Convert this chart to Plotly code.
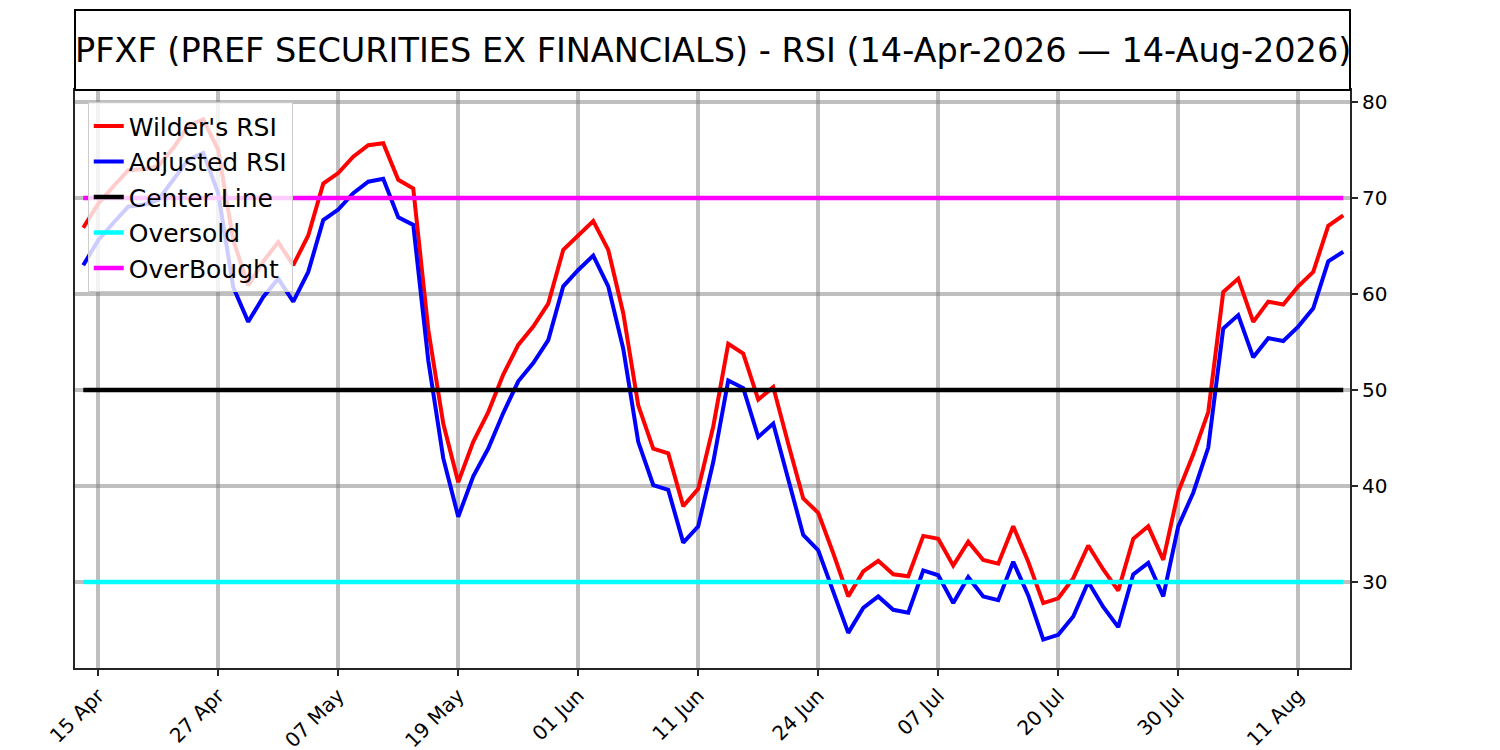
import plotly.graph_objects as go

# RSI readings, one per trading day from 14-Apr-2026 to 14-Aug-2026
wilder_rsi = [
    66.9, 69.4, 71.2, 72.9, 73.0, 73.3, 75.2, 77.5, 78.2, 75.0,
    65.6, 60.9, 63.4, 65.4, 63.0, 66.1, 71.5, 72.6, 74.3, 75.5,
    75.7, 71.9, 71.0, 56.3, 46.5, 40.4, 44.6, 47.7, 51.6, 54.7,
    56.6, 59.0, 64.6, 66.1, 67.6, 64.6, 58.0, 48.4, 43.9, 43.4,
    37.9, 39.7, 46.2, 54.8, 53.8, 49.0, 50.3, 44.4, 38.7, 37.2,
    33.0, 28.5, 31.1, 32.2, 30.8, 30.6, 34.8, 34.5, 31.7, 34.2,
    32.3, 31.9, 35.8, 32.1, 27.8, 28.3, 30.4, 33.8, 31.3, 29.1,
    34.5, 35.8, 32.3, 39.4, 43.3, 47.7, 60.2, 61.6, 57.1, 59.2,
    58.9, 60.8, 62.3, 67.1, 68.2,
]
adjusted_rsi = [
    63.0, 65.6, 67.4, 69.1, 69.3, 69.8, 71.9, 74.0, 74.7, 70.5,
    60.7, 57.1, 59.7, 61.6, 59.2, 62.3, 67.7, 68.8, 70.5, 71.7,
    72.0, 68.0, 67.2, 53.1, 42.9, 36.8, 41.0, 43.9, 47.6, 50.9,
    52.8, 55.2, 60.8, 62.5, 64.0, 60.8, 54.3, 44.6, 40.1, 39.6,
    34.1, 35.8, 42.5, 51.0, 50.2, 45.1, 46.5, 40.6, 34.9, 33.3,
    29.0, 24.7, 27.3, 28.5, 27.1, 26.8, 31.2, 30.7, 27.8, 30.5,
    28.5, 28.1, 32.1, 28.6, 24.0, 24.5, 26.4, 30.0, 27.4, 25.3,
    30.8, 32.0, 28.5, 35.8, 39.3, 44.0, 56.4, 57.8, 53.4, 55.4,
    55.1, 56.6, 58.5, 63.4, 64.4,
]

# reference levels
center_level = 50
oversold_level = 30
overbought_level = 70

# x tick labels (every 8th trading day, starting with the 2nd)
tick_labels = ["15 Apr", "27 Apr", "07 May", "19 May", "01 Jun", "11 Jun",
               "24 Jun", "07 Jul", "20 Jul", "30 Jul", "11 Aug"]

n = len(wilder_rsi)
x = list(range(n))
tick_vals = [1 + 8 * k for k in range(len(tick_labels))]

fig = go.Figure()

fig.add_trace(go.Scatter(x=x, y=wilder_rsi, mode='lines', name="Wilder's RSI",
                         line=dict(color='#ff0000', width=4)))
fig.add_trace(go.Scatter(x=x, y=adjusted_rsi, mode='lines', name='Adjusted RSI',
                         line=dict(color='#0000ff', width=4)))
fig.add_trace(go.Scatter(x=x, y=[center_level] * n, mode='lines', name='Center Line',
                         line=dict(color='#000000', width=4.5)))
fig.add_trace(go.Scatter(x=x, y=[oversold_level] * n, mode='lines', name='Oversold',
                         line=dict(color='#00ffff', width=4.5)))
fig.add_trace(go.Scatter(x=x, y=[overbought_level] * n, mode='lines', name='OverBought',
                         line=dict(color='#ff00ff', width=4.5)))

# title box above the plot
plot_h = 578
box_top = 1 + 80 / plot_h
fig.add_shape(type='rect', xref='paper', yref='paper',
              x0=0, x1=1, y0=1, y1=box_top,
              line=dict(color='black', width=2), fillcolor='white')
fig.add_annotation(xref='paper', yref='paper', x=0.5, y=1 + 40 / plot_h,
                   text='PFXF (PREF SECURITIES EX FINANCIALS) - RSI (14-Apr-2026 — 14-Aug-2026)',
                   showarrow=False, xanchor='center', yanchor='middle',
                   font=dict(family='DejaVu Sans', size=33.5, color='black'))

# page body adds an 8px offset, margins are shifted to compensate
fig.update_layout(
    width=1492, height=750,
    margin=dict(l=67, r=150, t=82, b=90, autoexpand=False),
    paper_bgcolor='white', plot_bgcolor='white',
    font=dict(family='DejaVu Sans', color='black'),
    showlegend=True,
    legend=dict(x=0.01, y=0.979, xanchor='left', yanchor='top',
                bgcolor='rgba(255,255,255,0.8)', bordercolor='#cccccc', borderwidth=1,
                font=dict(size=25, family='DejaVu Sans')),
    hovermode=False,
)

fig.update_xaxes(range=[-0.55, 84.45], tickvals=tick_vals, ticktext=tick_labels,
                 tickangle=-45, tickfont=dict(size=20), automargin=False,
                 showgrid=True, gridcolor='rgba(128,128,128,0.5)', gridwidth=4,
                 zeroline=False, showline=True, linecolor='#262626', linewidth=2,
                 mirror=True, ticks='outside', ticklen=6, tickwidth=2, tickcolor='#262626')
fig.update_yaxes(range=[21.04, 81.25], side='right', dtick=10, tick0=0,
                 tickfont=dict(size=20), automargin=False,
                 showgrid=True, gridcolor='rgba(128,128,128,0.5)', gridwidth=4,
                 zeroline=False, showline=True, linecolor='#262626', linewidth=2,
                 mirror=True, ticks='outside', ticklen=6, tickwidth=2, tickcolor='#262626')

fig.write_html("out.html")
